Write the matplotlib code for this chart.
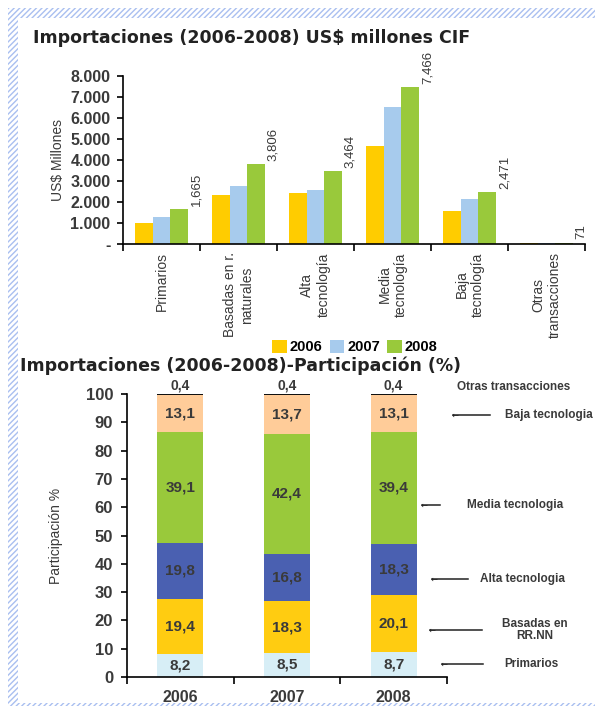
import matplotlib.pyplot as plt
import numpy as np
from matplotlib.patches import Rectangle

# Importaciones en millones de US$ CIF por intensidad tecnologica
categorias = ["Primarios", "Basadas en r.\nnaturales", "Alta\ntecnología",
              "Media\ntecnología", "Baja\ntecnología", "Otras\ntransacciones"]
imp_2006 = [1005, 2345, 2425, 4690, 1565, 60]
imp_2007 = [1290, 2775, 2570, 6525, 2140, 55]
imp_2008 = [1665, 3806, 3464, 7466, 2471, 71]
etiquetas_2008 = ["1,665", "3,806", "3,464", "7,466", "2,471", "71"]
ticks_y = [0, 1000, 2000, 3000, 4000, 5000, 6000, 7000, 8000]
ticks_y_txt = ["-", "1.000", "2.000", "3.000", "4.000", "5.000", "6.000", "7.000", "8.000"]

# Participacion porcentual
anios = ["2006", "2007", "2008"]
primarios = [8.2, 8.5, 8.7]
basadas = [19.4, 18.3, 20.1]
alta = [19.8, 16.8, 18.3]
media = [39.1, 42.4, 39.4]
baja = [13.1, 13.7, 13.1]
otras = [0.4, 0.4, 0.4]

plt.rcParams['font.family'] = ['Liberation Sans', 'DejaVu Sans']
GRIS = '#3a3a3a'
W, H = 595, 711

fig = plt.figure(figsize=(W / 100, H / 100), dpi=100)


def fx(px):
    return px / W


def fy(py):
    return 1 - py / H


# marco rayado
borde = '#a9bff0'
for x0, y0, w, h in [(8, 8, 587, 10), (8, 8, 10, 697), (8, 703, 587, 3)]:
    fig.patches.append(Rectangle((fx(x0), fy(y0 + h)), w / W, h / H,
                                 transform=fig.transFigure, facecolor='white',
                                 edgecolor=borde, hatch='//////', lw=0))

# ---------- grafico superior ----------
fig.text(fx(33), fy(38), "Importaciones (2006-2008) US$ millones CIF",
         fontsize=12.5, fontweight='bold', color='#222222',
         family='DejaVu Sans', va='center')

ax1 = fig.add_axes([fx(123), fy(244), (585 - 123) / W, (244 - 76) / H])
x = np.arange(len(categorias))
bw = 0.23
ax1.bar(x - bw, imp_2006, bw, color='#ffcc00', label='2006')
ax1.bar(x, imp_2007, bw, color='#a7cbed', label='2007')
b08 = ax1.bar(x + bw, imp_2008, bw, color='#99c93b', label='2008')
for rect, txt in zip(b08, etiquetas_2008):
    ax1.text(rect.get_x() + rect.get_width() + 0.03, rect.get_height() + 150, txt,
             rotation=90, ha='left', va='bottom', fontsize=9.5, color=GRIS)
ax1.set_xlim(-0.5, len(categorias) - 0.5)
ax1.set_ylim(0, 8000)
ax1.set_yticks(ticks_y)
ax1.set_yticklabels(ticks_y_txt, fontsize=11.5, fontweight='bold', color=GRIS)
ax1.set_xticks(np.arange(len(categorias) + 1) - 0.5)
ax1.set_xticklabels([])
ax1.set_xticks(x, minor=True)
ax1.set_xticklabels(categorias, minor=True, rotation=90, fontsize=10,
                    color=GRIS, va='top', ha='center', multialignment='center')
ax1.tick_params(axis='x', which='minor', length=0, pad=6)
ax1.tick_params(axis='x', which='major', length=5, width=1.2, direction='out')
ax1.tick_params(axis='y', length=4, width=1.2, direction='out', pad=5)
for s in ['top', 'right']:
    ax1.spines[s].set_visible(False)
for s in ['left', 'bottom']:
    ax1.spines[s].set_linewidth(1.2)
ax1.set_ylabel("US$ Millones", fontsize=10, color=GRIS, labelpad=4)
fig.legend(*ax1.get_legend_handles_labels(), loc='center',
           bbox_to_anchor=(fx(355), fy(347)), ncol=3, frameon=False,
           handlelength=1.0, handleheight=1.0,
           handletextpad=0.2, columnspacing=0.5, borderaxespad=0,
           prop={'weight': 'bold', 'size': 10.5})

# ---------- grafico inferior ----------
fig.text(fx(20), fy(366), "Importaciones (2006-2008)-Participación (%)",
         fontsize=12.5, fontweight='bold', color='#222222',
         family='DejaVu Sans', va='center')

ax2 = fig.add_axes([fx(127), fy(677), (447 - 127) / W, (677 - 394) / H])
xp = np.arange(len(anios))
segmentos = [(primarios, '#d7eef6'), (basadas, '#ffcc11'), (alta, '#4a60b1'),
             (media, '#99c93b'), (baja, '#ffcc99')]
base = np.zeros(len(anios))
pw = 0.43
for vals, col in segmentos:
    ax2.bar(xp, vals, pw, bottom=base, color=col)
    for xi, b, v in zip(xp, base, vals):
        ax2.text(xi, b + v / 2, f"{v:.1f}".replace('.', ','), ha='center',
                 va='center', fontsize=11, fontweight='bold', color=GRIS)
    base = base + np.array(vals)
ax2.bar(xp, otras, pw, bottom=base, color='#111111')
for xi, b, v in zip(xp, base, otras):
    ax2.text(xi, b + v + 0.6, f"{v:.1f}".replace('.', ','), ha='center',
             va='bottom', fontsize=10, fontweight='bold', color=GRIS)

ax2.set_xlim(-0.5, len(anios) - 0.5)
ax2.set_ylim(0, 100)
ax2.set_yticks(np.arange(0, 101, 10))
ax2.set_yticklabels([str(v) for v in range(0, 101, 10)], fontsize=12,
                    fontweight='bold', color=GRIS)
ax2.set_xticks(np.arange(len(anios) + 1) - 0.5)
ax2.set_xticklabels([])
ax2.set_xticks(xp, minor=True)
ax2.set_xticklabels(anios, minor=True, fontsize=11.5, fontweight='bold', color=GRIS)
ax2.tick_params(axis='x', which='minor', length=0, pad=9)
ax2.tick_params(axis='x', which='major', length=5, width=1.2, direction='out')
ax2.tick_params(axis='y', length=4, width=1.2, direction='out', pad=6)
for s in ['top', 'right']:
    ax2.spines[s].set_visible(False)
for s in ['left', 'bottom']:
    ax2.spines[s].set_linewidth(1.2)
ax2.set_ylabel("Participación %", fontsize=10, color=GRIS, labelpad=16)

# rotulos de los segmentos a la derecha
rotulos = [
    ("Otras transacciones", 514, 387, None),
    ("Baja tecnologia", 549, 415, (490, 453)),
    ("Media tecnologia", 515, 505, (440, 422)),
    ("Alta tecnologia", 523, 579, (468, 432)),
    ("Basadas en\nRR.NN", 535, 630, (482, 430)),
    ("Primarios", 531, 664, (483, 442)),
]
for txt, tx, ty, flecha in rotulos:
    fig.text(fx(tx), fy(ty), txt, ha='center', va='center', fontsize=8.5,
             fontweight='bold', color=GRIS, linespacing=1.1)
    if flecha:
        fig.add_artist(plt.Line2D([fx(flecha[0]), fx(flecha[1])], [fy(ty), fy(ty)],
                                  transform=fig.transFigure, color='#222222', lw=1.1))
        fig.text(fx(flecha[1]) - 0.002, fy(ty), "←", ha='left', va='center',
                 fontsize=6, color='#222222', family='DejaVu Sans')

fig.savefig("out.png", dpi=100)
